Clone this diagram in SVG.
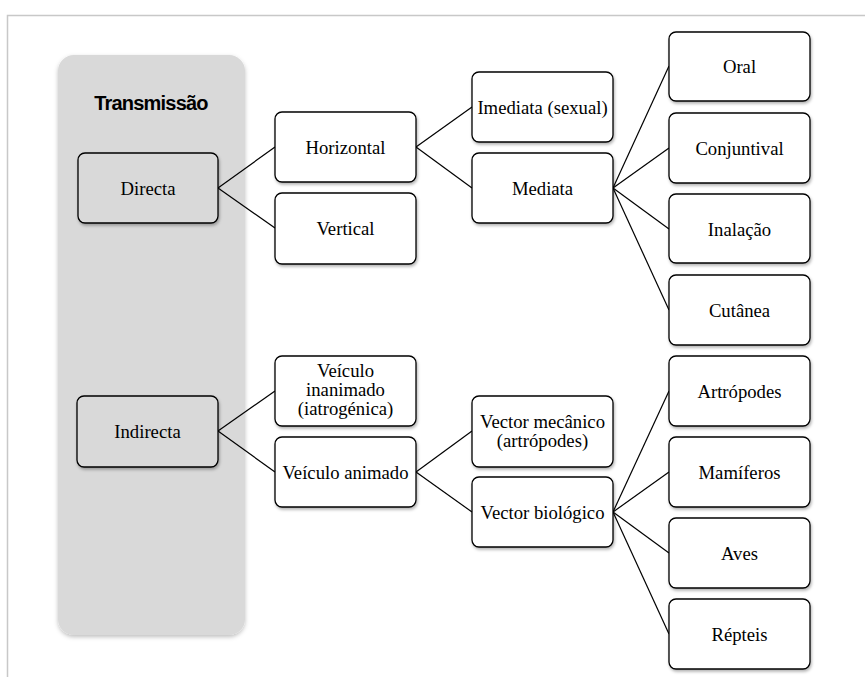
<svg xmlns="http://www.w3.org/2000/svg" width="865" height="677" viewBox="0 0 865 677">
<defs>
<filter id="sh" x="-10%" y="-10%" width="130%" height="140%">
<feDropShadow dx="1" dy="2" stdDeviation="1.5" flood-color="#000" flood-opacity="0.3"/>
</filter>
<filter id="psh" x="-10%" y="-5%" width="130%" height="115%">
<feDropShadow dx="0" dy="2" stdDeviation="2" flood-color="#000" flood-opacity="0.25"/>
</filter>
</defs>
<style>
.box{fill:#fff;stroke:#000;stroke-width:1.3;filter:url(#sh)}
.gbox{fill:#d9d9d9;stroke:#000;stroke-width:1.3;filter:url(#sh)}
.t{font-family:"Liberation Serif","Times New Roman",serif;font-size:18.7px;fill:#000;text-anchor:middle}
.title{font-family:"Liberation Sans",Arial,sans-serif;font-size:20px;font-weight:bold;letter-spacing:-0.8px;fill:#000;text-anchor:middle}
.conn line{stroke:#000;stroke-width:1.2}
</style>
<rect width="865" height="677" fill="#fff"/>
<path d="M7.5 677 V15.5 H865" fill="none" stroke="#c8c8c8" stroke-width="1.5"/>
<g id="panel">
<rect x="58" y="55" width="187" height="580" rx="16" fill="#d9d9d9" filter="url(#psh)"/>
<text class="title" x="151" y="110">Transmissão</text>
</g>
<g class="conn" id="connectors">
<line x1="218" y1="188" x2="275" y2="147"/>
<line x1="218" y1="188" x2="275" y2="228"/>
<line x1="416" y1="147" x2="472" y2="107"/>
<line x1="416" y1="147" x2="472" y2="188"/>
<line x1="613" y1="188" x2="669" y2="66"/>
<line x1="613" y1="188" x2="669" y2="148"/>
<line x1="613" y1="188" x2="669" y2="229"/>
<line x1="613" y1="188" x2="669" y2="310"/>
<line x1="218" y1="431" x2="275" y2="391"/>
<line x1="218" y1="431" x2="275" y2="472"/>
<line x1="416" y1="472" x2="472" y2="431"/>
<line x1="416" y1="472" x2="472" y2="512"/>
<line x1="613" y1="512" x2="669" y2="391"/>
<line x1="613" y1="512" x2="669" y2="472"/>
<line x1="613" y1="512" x2="669" y2="553"/>
<line x1="613" y1="512" x2="669" y2="634"/>
</g>
<g id="directa"><rect class="gbox" x="78" y="153" width="140" height="70" rx="7"/><text class="t" x="148" y="195">Directa</text></g>
<g id="horizontal"><rect class="box" x="275" y="112" width="141" height="70" rx="7"/><text class="t" x="345.5" y="154">Horizontal</text></g>
<g id="vertical"><rect class="box" x="275" y="193" width="141" height="71" rx="7"/><text class="t" x="345.5" y="235">Vertical</text></g>
<g id="imediata"><rect class="box" x="472" y="72" width="141" height="70" rx="7"/><text class="t" x="542.5" y="114">Imediata (sexual)</text></g>
<g id="mediata"><rect class="box" x="472" y="153" width="141" height="70" rx="7"/><text class="t" x="542.5" y="195">Mediata</text></g>
<g id="oral"><rect class="box" x="669" y="32" width="141" height="69" rx="7"/><text class="t" x="739.5" y="73">Oral</text></g>
<g id="conjuntival"><rect class="box" x="669" y="113" width="141" height="70" rx="7"/><text class="t" x="739.5" y="155">Conjuntival</text></g>
<g id="inalacao"><rect class="box" x="669" y="194" width="141" height="69" rx="7"/><text class="t" x="739.5" y="236">Inalação</text></g>
<g id="cutanea"><rect class="box" x="669" y="275" width="141" height="70" rx="7"/><text class="t" x="739.5" y="317">Cutânea</text></g>
<g id="indirecta"><rect class="gbox" x="77" y="396" width="141" height="71" rx="7"/><text class="t" x="147.5" y="438">Indirecta</text></g>
<g id="veiculo-inanimado"><rect class="box" x="275" y="356" width="141" height="70" rx="7"/><text class="t" x="345.5" y="377">Veículo</text><text class="t" x="345.5" y="396">inanimado</text><text class="t" x="345.5" y="415">(iatrogénica)</text></g>
<g id="veiculo-animado"><rect class="box" x="275" y="437" width="141" height="70" rx="7"/><text class="t" x="345.5" y="479">Veículo animado</text></g>
<g id="vector-mecanico"><rect class="box" x="472" y="396" width="141" height="71" rx="7"/><text class="t" x="542.5" y="428">Vector mecânico</text><text class="t" x="542.5" y="447">(artrópodes)</text></g>
<g id="vector-biologico"><rect class="box" x="472" y="477" width="141" height="70" rx="7"/><text class="t" x="542.5" y="519">Vector biológico</text></g>
<g id="artropodes"><rect class="box" x="669" y="356" width="141" height="70" rx="7"/><text class="t" x="739.5" y="398">Artrópodes</text></g>
<g id="mamiferos"><rect class="box" x="669" y="437" width="141" height="70" rx="7"/><text class="t" x="739.5" y="479">Mamíferos</text></g>
<g id="aves"><rect class="box" x="669" y="518" width="141" height="70" rx="7"/><text class="t" x="739.5" y="560">Aves</text></g>
<g id="repteis"><rect class="box" x="669" y="599" width="141" height="70" rx="7"/><text class="t" x="739.5" y="641">Répteis</text></g>
</svg>
